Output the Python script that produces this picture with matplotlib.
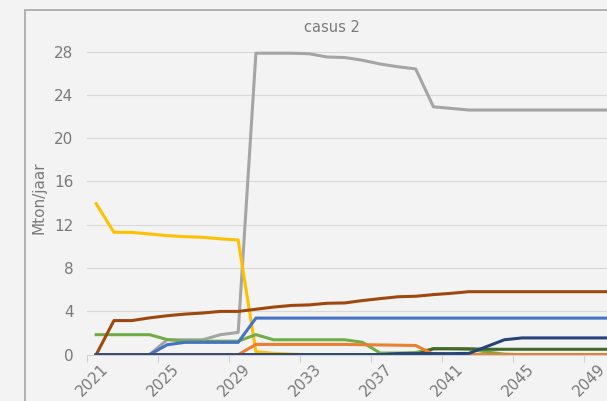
import matplotlib.pyplot as plt
from matplotlib.patches import Rectangle
from matplotlib.transforms import ScaledTranslation

years = list(range(2021, 2051))

# Mton/jaar per series
blue = [0, 0, 0, 0, 0.92, 1.14, 1.14, 1.14, 1.14, 3.38, 3.38, 3.38, 3.38, 3.38, 3.38,
        3.38, 3.38, 3.38, 3.38, 3.38, 3.38, 3.38, 3.38, 3.38, 3.38, 3.38, 3.38, 3.38, 3.38, 3.38]
orange = [0, 0, 0, 0, 0, 0, 0, 0, 0, 0.95, 0.95, 0.95, 0.95, 0.95, 0.95,
          0.92, 0.9, 0.88, 0.85, 0.05, 0, 0, 0, 0, 0, 0, 0, 0, 0, 0]
gray = [0, 0, 0, 0, 1.38, 1.38, 1.38, 1.85, 2.06, 27.85, 27.85, 27.85, 27.8, 27.5, 27.45,
        27.2, 26.85, 26.6, 26.4, 22.9, 22.75, 22.6, 22.6, 22.6, 22.6, 22.6, 22.6, 22.6, 22.6, 22.6]
yellow = [13.95, 11.3, 11.3, 11.15, 11.0, 10.9, 10.85, 10.7, 10.6, 0.28, 0.13, 0.05, 0, 0, 0,
          0, 0, 0, 0, 0, 0, 0, 0, 0, 0, 0, 0, 0, 0, 0]
green = [1.85, 1.85, 1.85, 1.85, 1.4, 1.25, 1.25, 1.25, 1.25, 1.85, 1.38, 1.38, 1.38, 1.38, 1.38,
         1.15, 0.15, 0.15, 0.2, 0.55, 0.55, 0.5, 0.25, 0.05, 0, 0, 0, 0, 0, 0]
darkblue = [0, 0, 0, 0, 0, 0, 0, 0, 0, 0, 0, 0, 0, 0, 0,
            0, 0, 0.1, 0.1, 0.1, 0.1, 0.12, 0.75, 1.38, 1.55, 1.55, 1.55, 1.55, 1.55, 1.55]
brown = [0, 3.15, 3.15, 3.4, 3.6, 3.75, 3.85, 4.0, 4.0, 4.2, 4.4, 4.55, 4.6, 4.75, 4.78,
         5.0, 5.18, 5.35, 5.4, 5.55, 5.67, 5.82, 5.82, 5.82, 5.82, 5.82, 5.82, 5.82, 5.82, 5.82]
darkgreen = [0, 0, 0, 0, 0, 0, 0, 0, 0, 0, 0, 0, 0, 0, 0,
             0, 0, 0, 0, 0.55, 0.55, 0.55, 0.5, 0.5, 0.5, 0.5, 0.5, 0.5, 0.5, 0.5]

series = [
    (gray, '#a5a5a5'),
    (yellow, '#ffc000'),
    (green, '#70ad47'),
    (blue, '#4472c4'),
    (brown, '#9e480e'),
    (darkgreen, '#43682b'),
    (orange, '#ed7d31'),
    (darkblue, '#264478'),
]

yticks = [0, 4, 8, 12, 16, 20, 24, 28]
txt = '#7a7a7a'
bg = '#f3f3f3'

W, H = 607, 401
fig = plt.figure(figsize=(W / 100, H / 100), dpi=100, facecolor=bg)
ax = fig.add_axes([87.3 / W, (H - 354.7) / H, 1 - 87.3 / W, (354.7 - 34.8) / H])
ax.set_facecolor(bg)

for vals, col in series:
    ax.plot(years, vals, color=col, lw=2.2, solid_joinstyle='round')

ax.set_xlim(2020.5, 2049.78)
ax.set_ylim(0, 29.55)

ax.set_yticks(yticks)
ax.set_yticklabels([str(v) for v in yticks])
ax.grid(axis='y', color='#d9d9d9', lw=0.8)
ax.set_axisbelow(True)

ax.set_xticks(years[::4])
ax.set_xticklabels([str(y) for y in years[::4]], rotation=45, ha='right',
                   rotation_mode='anchor')
ax.set_xticks([y - 0.5 for y in years[::4]], minor=True)
ax.tick_params(axis='x', which='major', length=0, pad=4.5, labelsize=11, labelcolor=txt)
ax.tick_params(axis='x', which='minor', length=5, width=0.8, color='#d0d0d0')
ax.tick_params(axis='y', length=0, pad=10, labelsize=11, labelcolor=txt)
shift = ScaledTranslation(3 / 72, 0, fig.dpi_scale_trans)
for lab in ax.get_xticklabels():
    lab.set_transform(lab.get_transform() + shift)

for s in ['top', 'right', 'left']:
    ax.spines[s].set_visible(False)
ax.spines['bottom'].set_color('#d0d0d0')
ax.spines['bottom'].set_linewidth(0.8)

ax.set_ylabel('Mton/jaar', fontsize=11, color=txt)
ax.yaxis.set_label_coords(-0.078, 0.49)

ax.set_title('casus 2', fontsize=10.5, color=txt, x=0.471, y=1.009, pad=0)

# chart area border (cropped at right and bottom)
fig.patches.append(Rectangle((25 / W, -0.05), 1.2, (H - 10) / H + 0.05,
                             transform=fig.transFigure, fill=False,
                             edgecolor='#a6a6a6', lw=1.2))

fig.savefig('out.png', dpi=100, facecolor=bg)
